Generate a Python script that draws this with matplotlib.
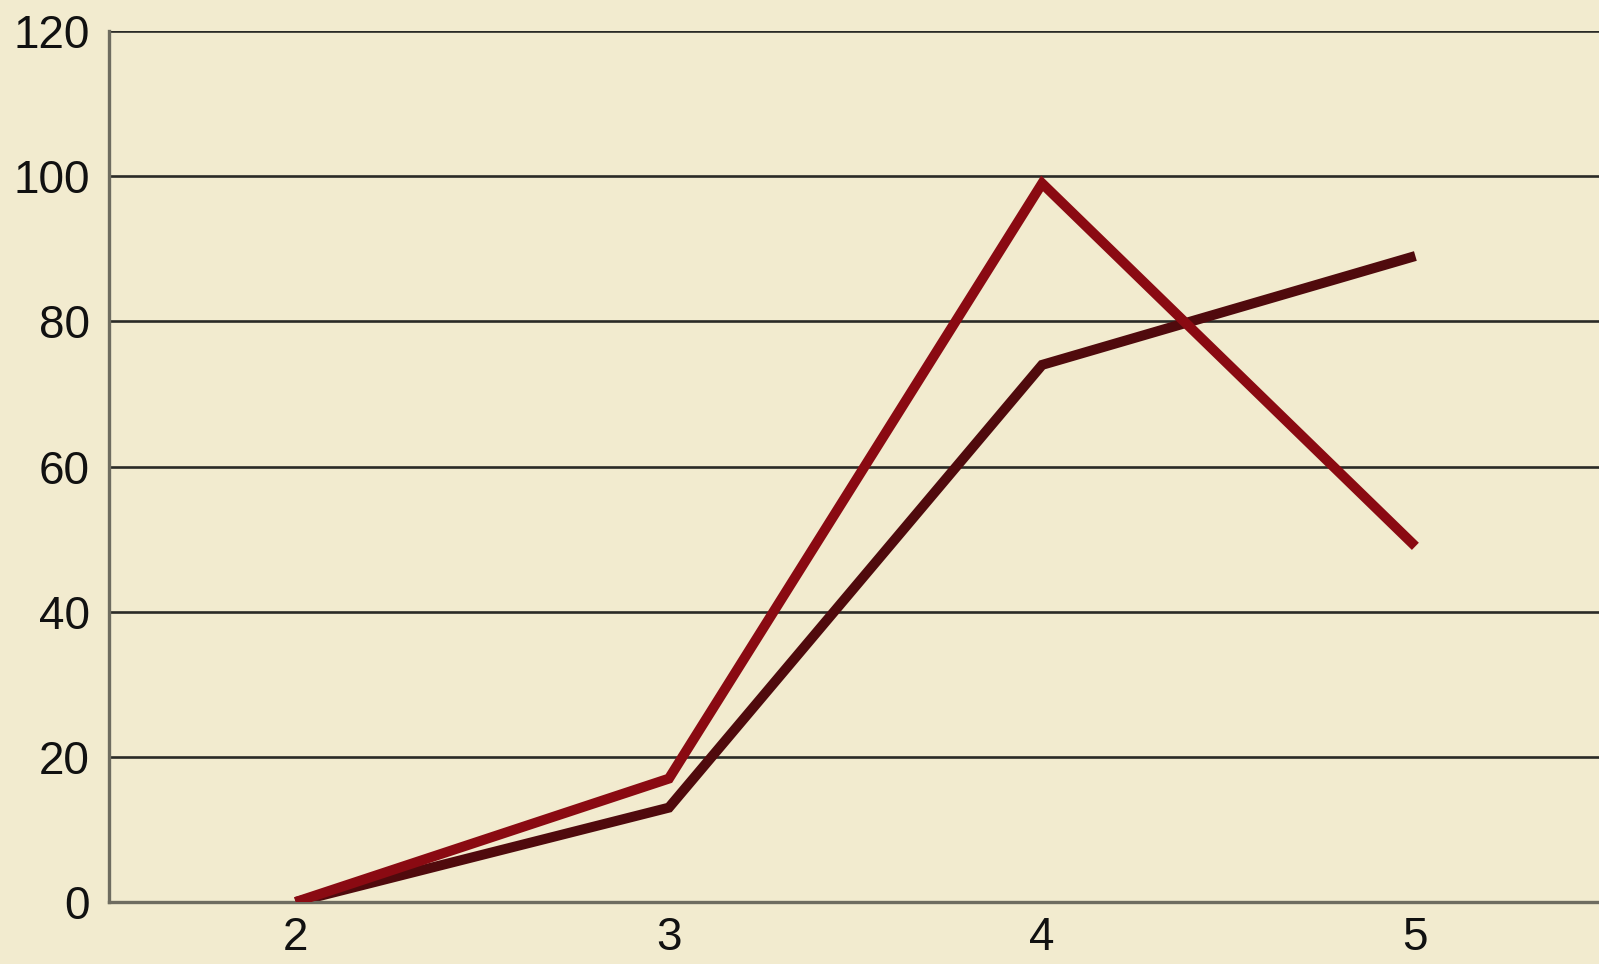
import matplotlib.pyplot as plt
import numpy as np

categories = ['2', '3', '4', '5']
series_red = [0, 17, 99, 49]
series_dark = [0, 13, 74, 89]
y_ticks = [0, 20, 40, 60, 80, 100, 120]

plt.rcParams['font.family'] = ['Liberation Sans', 'DejaVu Sans']

bg = '#f2ebcf'
fig = plt.figure(figsize=(15.99, 9.64), dpi=100, facecolor=bg)
ax = fig.add_axes([109 / 1599, 1 - 902 / 964, (1602 - 109) / 1599, (902 - 31) / 964])
ax.set_facecolor(bg)

x = np.arange(len(categories))
for v in y_ticks[1:]:
    ax.axhline(v, color='#2a2a26', lw=1.9, zorder=1)

ax.plot(x, series_red, color='#8a0a12', lw=7.2, solid_joinstyle='miter',
        solid_capstyle='butt', zorder=3)
ax.plot(x, series_dark, color='#500a0d', lw=7.2, solid_joinstyle='miter',
        solid_capstyle='butt', zorder=2)

ax.set_xlim(-0.5, 3.5)
ax.set_ylim(0, 120)
ax.set_xticks(x)
ax.set_xticklabels(categories)
ax.set_yticks(y_ticks)
ax.tick_params(axis='both', length=0, labelsize=33, colors='#111111')
ax.tick_params(axis='y', pad=14)
ax.tick_params(axis='x', pad=10)

for s in ['top', 'right']:
    ax.spines[s].set_visible(False)
for s in ['left', 'bottom']:
    ax.spines[s].set_color('#6e6c60')
    ax.spines[s].set_linewidth(2.4)

fig.savefig('out.png', dpi=100, facecolor=bg)
